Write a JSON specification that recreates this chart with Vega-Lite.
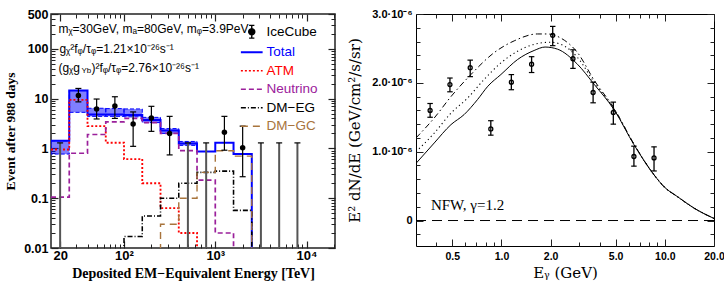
{
"$schema": "https://vega.github.io/schema/vega-lite/v6.json",
"background": "white",
"padding": {"left": 2, "top": 7, "right": 2, "bottom": 2},
"spacing": 10,
"config": {"font": "Liberation Sans", "axis": {"grid": false, "domain": false, "labelFlush": false, "labelOverlap": false, "labelBound": false, "tickColor": "#222", "labelColor": "black", "titleColor": "black"}},
"resolve": {"scale": {"color": "independent"}, "legend": {"color": "independent"}},
"datasets": {
 "hist": [
  {"s":"Total","E":15.85,"n":1.42,"o":0},{"s":"Total","E":25.12,"n":14.5,"o":1},{"s":"Total","E":39.81,"n":4.8,"o":2},{"s":"Total","E":63.1,"n":4.8,"o":3},{"s":"Total","E":100,"n":4.7,"o":4},{"s":"Total","E":158.5,"n":3.7,"o":5},{"s":"Total","E":251.2,"n":2.3,"o":6},{"s":"Total","E":398.1,"n":1.25,"o":7},{"s":"Total","E":631,"n":0.87,"o":8},{"s":"Total","E":1000,"n":1.3,"o":9},{"s":"Total","E":1585,"n":0.77,"o":10},{"s":"Total","E":2512,"n":0.77,"o":11},{"s":"Total","E":2512,"n":0.005,"o":12},
  {"s":"ATM","E":15.85,"n":0.95,"o":0},{"s":"ATM","E":25.12,"n":9.4,"o":1},{"s":"ATM","E":39.81,"n":2.8,"o":2},{"s":"ATM","E":63.1,"n":1.3,"o":3},{"s":"ATM","E":100,"n":0.61,"o":4},{"s":"ATM","E":158.5,"n":0.2,"o":5},{"s":"ATM","E":251.2,"n":0.063,"o":6},{"s":"ATM","E":398.1,"n":0.02,"o":7},{"s":"ATM","E":631,"n":0.02,"o":8},{"s":"ATM","E":631,"n":0.005,"o":9},
  {"s":"Neutrino","E":15.85,"n":0.105,"o":0},{"s":"Neutrino","E":25.12,"n":0.8,"o":1},{"s":"Neutrino","E":39.81,"n":1.9,"o":2},{"s":"Neutrino","E":63.1,"n":3.4,"o":3},{"s":"Neutrino","E":100,"n":4.0,"o":4},{"s":"Neutrino","E":158.5,"n":3.3,"o":5},{"s":"Neutrino","E":251.2,"n":2.0,"o":6},{"s":"Neutrino","E":398.1,"n":0.9,"o":7},{"s":"Neutrino","E":631,"n":0.23,"o":8},{"s":"Neutrino","E":1000,"n":0.02,"o":9},{"s":"Neutrino","E":1585,"n":0.02,"o":10},{"s":"Neutrino","E":1585,"n":0.005,"o":11},
  {"s":"DM−EG","E":100,"n":0.005,"o":0},{"s":"DM−EG","E":100,"n":0.017,"o":1},{"s":"DM−EG","E":158.5,"n":0.044,"o":2},{"s":"DM−EG","E":251.2,"n":0.1,"o":3},{"s":"DM−EG","E":398.1,"n":0.2,"o":4},{"s":"DM−EG","E":631,"n":0.33,"o":5},{"s":"DM−EG","E":1000,"n":0.35,"o":6},{"s":"DM−EG","E":1585,"n":0.057,"o":7},{"s":"DM−EG","E":2512,"n":0.057,"o":8},{"s":"DM−EG","E":2512,"n":0.005,"o":9},
  {"s":"DM−GC","E":251.2,"n":0.005,"o":0},{"s":"DM−GC","E":251.2,"n":0.03,"o":1},{"s":"DM−GC","E":398.1,"n":0.1,"o":2},{"s":"DM−GC","E":631,"n":0.33,"o":3},{"s":"DM−GC","E":1000,"n":0.9,"o":4},{"s":"DM−GC","E":1585,"n":0.7,"o":5},{"s":"DM−GC","E":2512,"n":0.7,"o":6},{"s":"DM−GC","E":2512,"n":0.005,"o":7}
 ],
 "band": [
  {"x1":15.85,"x2":25.12,"lo":0.77,"hi":1.42},{"x1":25.12,"x2":39.81,"lo":5.3,"hi":14.5},{"x1":39.81,"x2":63.1,"lo":4.4,"hi":6.4},{"x1":63.1,"x2":100,"lo":4.4,"hi":6.3},{"x1":100,"x2":158.5,"lo":4.3,"hi":6.2},{"x1":158.5,"x2":251.2,"lo":3.3,"hi":4.2},{"x1":251.2,"x2":398.1,"lo":2.0,"hi":2.5},{"x1":398.1,"x2":631,"lo":1.15,"hi":1.38}
 ],
 "ice": [
  {"E":31.62,"v":11.5,"lo":8.6,"hi":16},{"E":50.12,"v":6.2,"lo":3.9,"hi":9.8},{"E":79.43,"v":7.1,"lo":4.0,"hi":10.9},{"E":125.9,"v":3.1,"lo":1.1,"hi":5.4},{"E":199.5,"v":4.1,"lo":2.2,"hi":7.0},{"E":316.2,"v":2.0,"lo":0.74,"hi":4.4},{"E":1259,"v":2.1,"lo":0.92,"hi":4.4},{"E":1995,"v":1.03,"lo":0.27,"hi":2.8}
 ],
 "ul": [
  {"E":19.95,"hi":1.29},{"E":501.2,"hi":1.29},{"E":794.3,"hi":1.29},{"E":3162,"hi":1.29},{"E":5012,"hi":1.29},{"E":7943,"hi":1.29}
 ],
 "fermi": [
  {"E":0.366,"v":1.60e-6,"lo":1.50e-6,"hi":1.70e-6},{"E":0.484,"v":1.975e-6,"lo":1.87e-6,"hi":2.07e-6},{"E":0.644,"v":2.22e-6,"lo":2.09e-6,"hi":2.33e-6},{"E":0.861,"v":1.33e-6,"lo":1.24e-6,"hi":1.45e-6},{"E":1.15,"v":2.01e-6,"lo":1.90e-6,"hi":2.12e-6},{"E":1.53,"v":2.27e-6,"lo":2.15e-6,"hi":2.38e-6},{"E":2.06,"v":2.69e-6,"lo":2.54e-6,"hi":2.82e-6},{"E":2.74,"v":2.35e-6,"lo":2.21e-6,"hi":2.48e-6},{"E":3.64,"v":1.86e-6,"lo":1.71e-6,"hi":2.01e-6},{"E":4.84,"v":1.57e-6,"lo":1.40e-6,"hi":1.72e-6},{"E":6.47,"v":0.93e-6,"lo":0.79e-6,"hi":1.08e-6},{"E":8.59,"v":0.91e-6,"lo":0.72e-6,"hi":1.07e-6}
 ],
 "model": [
  {"m":"m1","E":0.3,"v":8.3e-7},{"m":"m1","E":0.388,"v":1.127e-6},{"m":"m1","E":0.491,"v":1.393e-6},{"m":"m1","E":0.591,"v":1.539e-6},{"m":"m1","E":0.714,"v":1.757e-6},{"m":"m1","E":0.826,"v":1.951e-6},{"m":"m1","E":0.993,"v":2.121e-6},{"m":"m1","E":1.256,"v":2.339e-6},{"m":"m1","E":1.585,"v":2.47e-6},{"m":"m1","E":1.85,"v":2.52e-6},{"m":"m1","E":2.2,"v":2.49e-6},{"m":"m1","E":2.92,"v":2.27e-6},{"m":"m1","E":3.69,"v":1.98e-6},{"m":"m1","E":4.89,"v":1.61e-6},{"m":"m1","E":6.48,"v":1.10e-6},{"m":"m1","E":8.58,"v":6.65e-7},{"m":"m1","E":10,"v":4.8e-7},{"m":"m1","E":11.9,"v":3.5e-7},{"m":"m1","E":15.1,"v":1.8e-7},{"m":"m1","E":20,"v":3e-8},
  {"m":"m2","E":0.3,"v":1.0e-6},{"m":"m2","E":0.388,"v":1.27e-6},{"m":"m2","E":0.491,"v":1.56e-6},{"m":"m2","E":0.621,"v":1.78e-6},{"m":"m2","E":0.784,"v":2.05e-6},{"m":"m2","E":0.993,"v":2.29e-6},{"m":"m2","E":1.256,"v":2.46e-6},{"m":"m2","E":1.585,"v":2.56e-6},{"m":"m2","E":2.0,"v":2.59e-6},{"m":"m2","E":2.31,"v":2.56e-6},{"m":"m2","E":2.92,"v":2.37e-6},{"m":"m2","E":3.69,"v":2.01e-6},{"m":"m2","E":4.89,"v":1.62e-6},{"m":"m2","E":6.48,"v":1.105e-6},{"m":"m2","E":8.58,"v":6.65e-7},{"m":"m2","E":10,"v":4.8e-7},{"m":"m2","E":11.9,"v":3.5e-7},{"m":"m2","E":15.1,"v":1.8e-7},{"m":"m2","E":20,"v":3e-8},
  {"m":"m3","E":0.3,"v":1.2e-6},{"m":"m3","E":0.388,"v":1.49e-6},{"m":"m3","E":0.491,"v":1.80e-6},{"m":"m3","E":0.65,"v":2.12e-6},{"m":"m3","E":0.904,"v":2.44e-6},{"m":"m3","E":1.197,"v":2.61e-6},{"m":"m3","E":1.66,"v":2.71e-6},{"m":"m3","E":1.91,"v":2.71e-6},{"m":"m3","E":2.31,"v":2.65e-6},{"m":"m3","E":2.92,"v":2.44e-6},{"m":"m3","E":3.69,"v":2.04e-6},{"m":"m3","E":4.89,"v":1.63e-6},{"m":"m3","E":6.48,"v":1.11e-6},{"m":"m3","E":8.58,"v":6.65e-7},{"m":"m3","E":10,"v":4.8e-7},{"m":"m3","E":11.9,"v":3.5e-7},{"m":"m3","E":15.1,"v":1.8e-7},{"m":"m3","E":20,"v":3e-8}
 ]
},
"hconcat": [
 {
  "width": 284, "height": 234,
  "view": {"stroke": "#222", "strokeWidth": 1.5},
  "resolve": {"axis": {"x": "independent", "y": "independent"}},
  "layer": [
   {"data": {"name": "ice"}, "mark": {"type": "point", "opacity": 0},
    "encoding": {
     "x": {"field": "E", "type": "quantitative", "scale": {"type": "log", "domain": [15.85, 20500], "nice": false},
       "axis": {"orient": "bottom", "values": [20, 100, 1000, 10000], "tickSize": 7, "tickWidth": 1.2, "offset": -7, "labelPadding": 1,
        "labelExpr": "datum.value == 20 ? '20' : datum.value == 100 ? '10²' : datum.value == 1000 ? '10³' : '10⁴'",
        "labelFontSize": 13, "labelFontWeight": "bold", "title": "Deposited EM−Equivalent Energy [TeV]", "titleFont": "Liberation Serif", "titleFontSize": 14, "titleFontWeight": "bold", "titlePadding": 4}},
     "y": {"field": "v", "type": "quantitative", "scale": {"type": "log", "domain": [0.01, 500], "nice": false},
       "axis": {"orient": "left", "values": [0.01, 0.1, 1, 10, 100, 500], "tickSize": 7, "tickWidth": 1.2, "offset": -7, "labelPadding": 3, "format": "~g",
        "labelFontSize": 12.5, "labelFontWeight": "bold", "title": "Event after 988 days", "titleFont": "Liberation Serif", "titleFontSize": 13.5, "titleFontWeight": "bold", "titlePadding": 6}}
    }},
   {"data": {"name": "ice"}, "mark": {"type": "point", "opacity": 0},
    "encoding": {
     "x": {"field": "E", "type": "quantitative", "scale": {"type": "log", "domain": [15.85, 20500], "nice": false},
       "axis": {"orient": "bottom", "values": [30,40,50,60,70,80,90,200,300,400,500,600,700,800,900,2000,3000,4000,5000,6000,7000,8000,9000,20000], "tickSize": 4, "tickWidth": 1, "offset": -4, "labels": false, "title": null}},
     "y": {"field": "v", "type": "quantitative", "scale": {"type": "log", "domain": [0.01, 500], "nice": false},
       "axis": {"orient": "left", "values": [0.02,0.03,0.04,0.05,0.06,0.07,0.08,0.09,0.2,0.3,0.4,0.5,0.6,0.7,0.8,0.9,2,3,4,5,6,7,8,9,20,30,40,50,60,70,80,90,200,300,400], "tickSize": 4, "tickWidth": 1, "offset": -4, "labels": false, "title": null}}
    }},
   {"data": {"name": "ice"}, "mark": {"type": "point", "opacity": 0},
    "encoding": {
     "x": {"field": "E", "type": "quantitative", "scale": {"type": "log", "domain": [15.85, 20500], "nice": false},
       "axis": {"orient": "top", "values": [20, 100, 1000, 10000], "tickSize": 7, "tickWidth": 1.2, "offset": -7, "labels": false, "title": null}},
     "y": {"field": "v", "type": "quantitative", "scale": {"type": "log", "domain": [0.01, 500], "nice": false},
       "axis": {"orient": "right", "values": [0.01, 0.1, 1, 10, 100, 500], "tickSize": 7, "tickWidth": 1.2, "offset": -7, "labels": false, "title": null}}
    }},
   {"data": {"name": "ice"}, "mark": {"type": "point", "opacity": 0},
    "encoding": {
     "x": {"field": "E", "type": "quantitative", "scale": {"type": "log", "domain": [15.85, 20500], "nice": false},
       "axis": {"orient": "top", "values": [30,40,50,60,70,80,90,200,300,400,500,600,700,800,900,2000,3000,4000,5000,6000,7000,8000,9000,20000], "tickSize": 4, "tickWidth": 1, "offset": -4, "labels": false, "title": null}},
     "y": {"field": "v", "type": "quantitative", "scale": {"type": "log", "domain": [0.01, 500], "nice": false},
       "axis": {"orient": "right", "values": [0.02,0.03,0.04,0.05,0.06,0.07,0.08,0.09,0.2,0.3,0.4,0.5,0.6,0.7,0.8,0.9,2,3,4,5,6,7,8,9,20,30,40,50,60,70,80,90,200,300,400], "tickSize": 4, "tickWidth": 1, "offset": -4, "labels": false, "title": null}}
    }},
   {"data": {"name": "band"}, "mark": {"type": "rect", "fill": "#0000ff", "fillOpacity": 0.5, "stroke": "#0000ff", "strokeDash": [4, 2], "strokeWidth": 1, "clip": true},
    "encoding": {
     "x": {"field": "x1", "type": "quantitative", "scale": {"type": "log", "domain": [15.85, 20500], "nice": false}, "axis": null},
     "x2": {"field": "x2"},
     "y": {"field": "lo", "type": "quantitative", "scale": {"type": "log", "domain": [0.01, 500], "nice": false}, "axis": null},
     "y2": {"field": "hi"}
    }},
   {"data": {"name": "hist"}, "mark": {"type": "line", "interpolate": "step-after", "clip": true},
    "encoding": {
     "x": {"field": "E", "type": "quantitative", "scale": {"type": "log", "domain": [15.85, 20500], "nice": false}, "axis": null},
     "y": {"field": "n", "type": "quantitative", "scale": {"type": "log", "domain": [0.01, 500], "nice": false}, "axis": null},
     "order": {"field": "o", "type": "quantitative"},
     "color": {"field": "s", "type": "nominal",
       "scale": {"domain": ["IceCube", "Total", "ATM", "Neutrino", "DM−EG", "DM−GC"], "range": ["#000000", "#0000ff", "#ff0000", "#9b209b", "#000000", "#a8743c"]},
       "legend": {"orient": "none", "legendX": 194, "legendY": 11, "title": null, "symbolType": "stroke", "symbolSize": 225, "symbolStrokeWidth": 1.5, "rowPadding": 3.5, "labelOffset": 8, "labelFont": "Liberation Sans", "labelFontSize": 13.5, "labelLimit": 200, "padding": 0, "direction": "vertical",
        "encode": {
         "symbols": {"update": {
           "shape": {"signal": "datum.value === 'IceCube' ? 'M0,-0.85V0.85M-0.35,-0.85H0.35M-0.35,0.85H0.35M-0.4,0A0.4,0.4,0,1,0,0.4,0A0.4,0.4,0,1,0,-0.4,0' : 'M-1.45,0H1.45'"},
           "strokeDash": {"signal": "datum.value === 'ATM' ? [2,2] : datum.value === 'Neutrino' ? [5,3] : datum.value === 'DM−EG' ? [5,2,1,2] : datum.value === 'DM−GC' ? [7,5] : [1,0]"},
           "fill": {"signal": "datum.value === 'IceCube' ? 'black' : 'transparent'"},
           "fillOpacity": {"value": 1},
           "strokeWidth": {"signal": "datum.value === 'Total' ? 2 : 1.4"}
         }},
         "labels": {"update": {
           "fill": {"signal": "datum.value === 'Total' ? '#0000ff' : datum.value === 'ATM' ? '#ff0000' : datum.value === 'Neutrino' ? '#9b209b' : datum.value === 'DM−GC' ? '#a8743c' : 'black'"}
         }}
        }}},
     "strokeDash": {"field": "s", "type": "nominal", "scale": {"domain": ["Total", "ATM", "Neutrino", "DM−EG", "DM−GC"], "range": [[1, 0], [2, 2], [5, 3], [5, 2, 1, 2], [7, 5]]}, "legend": null},
     "strokeWidth": {"field": "s", "type": "ordinal", "scale": {"domain": ["Total", "ATM", "Neutrino", "DM−EG", "DM−GC"], "range": [2, 1.4, 1.4, 1.2, 1.4]}, "legend": null}
    }},
   {"data": {"name": "ul"}, "mark": {"type": "rule", "color": "#555555", "strokeWidth": 2, "clip": true},
    "encoding": {
     "x": {"field": "E", "type": "quantitative", "scale": {"type": "log", "domain": [15.85, 20500], "nice": false}, "axis": null},
     "y": {"field": "hi", "type": "quantitative", "scale": {"type": "log", "domain": [0.01, 500], "nice": false}, "axis": null},
     "y2": {"datum": 0.01}
    }},
   {"data": {"name": "ul"}, "mark": {"type": "point", "shape": "stroke", "filled": false, "color": "black", "strokeWidth": 1.2, "size": 36, "opacity": 1},
    "encoding": {
     "x": {"field": "E", "type": "quantitative", "scale": {"type": "log", "domain": [15.85, 20500], "nice": false}, "axis": null},
     "y": {"field": "hi", "type": "quantitative", "scale": {"type": "log", "domain": [0.01, 500], "nice": false}, "axis": null}
    }},
   {"data": {"name": "ice"}, "mark": {"type": "rule", "color": "black", "strokeWidth": 1.2},
    "encoding": {
     "x": {"field": "E", "type": "quantitative", "scale": {"type": "log", "domain": [15.85, 20500], "nice": false}, "axis": null},
     "y": {"field": "lo", "type": "quantitative", "scale": {"type": "log", "domain": [0.01, 500], "nice": false}, "axis": null},
     "y2": {"field": "hi"}
    }},
   {"data": {"name": "ice"}, "mark": {"type": "point", "shape": "stroke", "filled": false, "color": "black", "strokeWidth": 1.2, "size": 36, "opacity": 1},
    "encoding": {
     "x": {"field": "E", "type": "quantitative", "scale": {"type": "log", "domain": [15.85, 20500], "nice": false}, "axis": null},
     "y": {"field": "lo", "type": "quantitative", "scale": {"type": "log", "domain": [0.01, 500], "nice": false}, "axis": null}
    }},
   {"data": {"name": "ice"}, "mark": {"type": "point", "shape": "stroke", "filled": false, "color": "black", "strokeWidth": 1.2, "size": 36, "opacity": 1},
    "encoding": {
     "x": {"field": "E", "type": "quantitative", "scale": {"type": "log", "domain": [15.85, 20500], "nice": false}, "axis": null},
     "y": {"field": "hi", "type": "quantitative", "scale": {"type": "log", "domain": [0.01, 500], "nice": false}, "axis": null}
    }},
   {"data": {"name": "ice"}, "mark": {"type": "point", "shape": "circle", "filled": true, "color": "black", "size": 30, "opacity": 1},
    "encoding": {
     "x": {"field": "E", "type": "quantitative", "scale": {"type": "log", "domain": [15.85, 20500], "nice": false}, "axis": null},
     "y": {"field": "v", "type": "quantitative", "scale": {"type": "log", "domain": [0.01, 500], "nice": false}, "axis": null}
    }},
   {"data": {"values": [{}]}, "mark": {"type": "text", "align": "left", "baseline": "middle", "fontSize": 12, "font": "Liberation Sans", "text": "mᵪ=30GeV, mₐ=80GeV, mᵩ=3.9PeV"},
    "encoding": {
     "x": {"datum": 19.1, "type": "quantitative", "scale": {"type": "log", "domain": [15.85, 20500], "nice": false}, "axis": null},
     "y": {"datum": 245, "type": "quantitative", "scale": {"type": "log", "domain": [0.01, 500], "nice": false}, "axis": null}
    }},
   {"data": {"values": [{}]}, "mark": {"type": "text", "align": "left", "baseline": "middle", "fontSize": 12, "font": "Liberation Sans", "text": "gᵪ²fᵩ/τᵩ=1.21×10⁻²⁶s⁻¹"},
    "encoding": {
     "x": {"datum": 19.6, "type": "quantitative", "scale": {"type": "log", "domain": [15.85, 20500], "nice": false}, "axis": null},
     "y": {"datum": 101, "type": "quantitative", "scale": {"type": "log", "domain": [0.01, 500], "nice": false}, "axis": null}
    }},
   {"data": {"values": [{}]}, "mark": {"type": "text", "align": "left", "baseline": "middle", "fontSize": 12, "font": "Liberation Sans", "text": "(gᵪg"},
    "encoding": {
     "x": {"datum": 19.1, "type": "quantitative", "scale": {"type": "log", "domain": [15.85, 20500], "nice": false}, "axis": null},
     "y": {"datum": 41, "type": "quantitative", "scale": {"type": "log", "domain": [0.01, 500], "nice": false}, "axis": null}
    }},
   {"data": {"values": [{}]}, "mark": {"type": "text", "align": "left", "baseline": "middle", "fontSize": 8, "font": "Liberation Sans", "dx": 23, "dy": 3, "text": "Υb"},
    "encoding": {
     "x": {"datum": 19.1, "type": "quantitative", "scale": {"type": "log", "domain": [15.85, 20500], "nice": false}, "axis": null},
     "y": {"datum": 41, "type": "quantitative", "scale": {"type": "log", "domain": [0.01, 500], "nice": false}, "axis": null}
    }},
   {"data": {"values": [{}]}, "mark": {"type": "text", "align": "left", "baseline": "middle", "fontSize": 12, "font": "Liberation Sans", "dx": 33, "text": ")²fᵩ/τᵩ=2.76×10⁻²⁶s⁻¹"},
    "encoding": {
     "x": {"datum": 19.1, "type": "quantitative", "scale": {"type": "log", "domain": [15.85, 20500], "nice": false}, "axis": null},
     "y": {"datum": 41, "type": "quantitative", "scale": {"type": "log", "domain": [0.01, 500], "nice": false}, "axis": null}
    }}
  ]
 },
 {
  "width": 298, "height": 232,
  "view": {"stroke": "black", "strokeWidth": 1},
  "resolve": {"axis": {"x": "independent", "y": "independent"}},
  "layer": [
   {"data": {"name": "fermi"}, "mark": {"type": "point", "opacity": 0},
    "encoding": {
     "x": {"field": "E", "type": "quantitative", "scale": {"type": "log", "domain": [0.3, 20], "nice": false},
       "axis": {"orient": "bottom", "values": [0.5, 1, 2, 5, 10, 20], "tickSize": 7, "tickWidth": 1, "offset": -7, "labelPadding": 5, "format": ".1f", "labelFontSize": 10.5, "labelFontWeight": "bold",
        "title": "Eᵧ (GeV)", "titleFont": "DejaVu Serif", "titleFontSize": 15, "titleFontWeight": "normal", "titlePadding": 4}},
     "y": {"field": "v", "type": "quantitative", "scale": {"type": "linear", "domain": [-3.7e-7, 3.0e-6], "nice": false, "zero": false},
       "axis": {"orient": "left", "values": [0, 1e-6, 2e-6, 3e-6], "tickSize": 7, "tickWidth": 1, "offset": -7, "labelPadding": 4,
        "labelExpr": "datum.value == 0 ? '0' : format(datum.value * 1e6, '.1f') + '·10⁻⁶'", "labelFontSize": 11, "labelFontWeight": "bold",
        "title": "E² dN/dE (GeV/cm²/s/sr)", "titleFont": "DejaVu Serif", "titleFontSize": 15, "titleFontWeight": "normal", "titlePadding": 9}}
    }},
   {"data": {"name": "fermi"}, "mark": {"type": "point", "opacity": 0},
    "encoding": {
     "x": {"field": "E", "type": "quantitative", "scale": {"type": "log", "domain": [0.3, 20], "nice": false},
       "axis": {"orient": "bottom", "values": [0.4, 0.6, 0.7, 0.8, 0.9, 3, 4, 6, 7, 8, 9], "tickSize": 4, "tickWidth": 1, "offset": -4, "labels": false, "title": null}},
     "y": {"field": "v", "type": "quantitative", "scale": {"type": "linear", "domain": [-3.7e-7, 3.0e-6], "nice": false, "zero": false},
       "axis": {"orient": "left", "values": [-2e-7, 2e-7, 4e-7, 6e-7, 8e-7, 1.2e-6, 1.4e-6, 1.6e-6, 1.8e-6, 2.2e-6, 2.4e-6, 2.6e-6, 2.8e-6], "tickSize": 4, "tickWidth": 1, "offset": -4, "labels": false, "title": null}}
    }},
   {"data": {"name": "fermi"}, "mark": {"type": "point", "opacity": 0},
    "encoding": {
     "x": {"field": "E", "type": "quantitative", "scale": {"type": "log", "domain": [0.3, 20], "nice": false},
       "axis": {"orient": "top", "values": [0.5, 1, 2, 5, 10, 20], "tickSize": 7, "tickWidth": 1, "offset": -7, "labels": false, "title": null}},
     "y": {"field": "v", "type": "quantitative", "scale": {"type": "linear", "domain": [-3.7e-7, 3.0e-6], "nice": false, "zero": false},
       "axis": {"orient": "right", "values": [0, 1e-6, 2e-6, 3e-6], "tickSize": 7, "tickWidth": 1, "offset": -7, "labels": false, "title": null}}
    }},
   {"data": {"name": "fermi"}, "mark": {"type": "point", "opacity": 0},
    "encoding": {
     "x": {"field": "E", "type": "quantitative", "scale": {"type": "log", "domain": [0.3, 20], "nice": false},
       "axis": {"orient": "top", "values": [0.4, 0.6, 0.7, 0.8, 0.9, 3, 4, 6, 7, 8, 9], "tickSize": 4, "tickWidth": 1, "offset": -4, "labels": false, "title": null}},
     "y": {"field": "v", "type": "quantitative", "scale": {"type": "linear", "domain": [-3.7e-7, 3.0e-6], "nice": false, "zero": false},
       "axis": {"orient": "right", "values": [-2e-7, 2e-7, 4e-7, 6e-7, 8e-7, 1.2e-6, 1.4e-6, 1.6e-6, 1.8e-6, 2.2e-6, 2.4e-6, 2.6e-6, 2.8e-6], "tickSize": 4, "tickWidth": 1, "offset": -4, "labels": false, "title": null}}
    }},
   {"data": {"values": [{}]}, "mark": {"type": "rule", "color": "black", "strokeWidth": 1, "strokeDash": [10, 6]},
    "encoding": {
     "y": {"datum": 0, "type": "quantitative", "scale": {"type": "linear", "domain": [-3.7e-7, 3.0e-6], "nice": false, "zero": false}, "axis": null}
    }},
   {"data": {"name": "model"}, "transform": [{"filter": "datum.m == 'm1'"}], "mark": {"type": "line", "interpolate": "monotone", "color": "black", "strokeWidth": 1, "clip": true},
    "encoding": {
     "x": {"field": "E", "type": "quantitative", "scale": {"type": "log", "domain": [0.3, 20], "nice": false}, "axis": null},
     "y": {"field": "v", "type": "quantitative", "scale": {"type": "linear", "domain": [-3.7e-7, 3.0e-6], "nice": false, "zero": false}, "axis": null}
    }},
   {"data": {"name": "model"}, "transform": [{"filter": "datum.m == 'm2'"}], "mark": {"type": "line", "interpolate": "monotone", "color": "black", "strokeWidth": 1.1, "strokeDash": [1.2, 3], "clip": true},
    "encoding": {
     "x": {"field": "E", "type": "quantitative", "scale": {"type": "log", "domain": [0.3, 20], "nice": false}, "axis": null},
     "y": {"field": "v", "type": "quantitative", "scale": {"type": "linear", "domain": [-3.7e-7, 3.0e-6], "nice": false, "zero": false}, "axis": null}
    }},
   {"data": {"name": "model"}, "transform": [{"filter": "datum.m == 'm3'"}], "mark": {"type": "line", "interpolate": "monotone", "color": "black", "strokeWidth": 1, "strokeDash": [6, 3, 1.5, 3], "clip": true},
    "encoding": {
     "x": {"field": "E", "type": "quantitative", "scale": {"type": "log", "domain": [0.3, 20], "nice": false}, "axis": null},
     "y": {"field": "v", "type": "quantitative", "scale": {"type": "linear", "domain": [-3.7e-7, 3.0e-6], "nice": false, "zero": false}, "axis": null}
    }},
   {"data": {"name": "fermi"}, "mark": {"type": "rule", "color": "black", "strokeWidth": 1.3},
    "encoding": {
     "x": {"field": "E", "type": "quantitative", "scale": {"type": "log", "domain": [0.3, 20], "nice": false}, "axis": null},
     "y": {"field": "lo", "type": "quantitative", "scale": {"type": "linear", "domain": [-3.7e-7, 3.0e-6], "nice": false, "zero": false}, "axis": null},
     "y2": {"field": "hi"}
    }},
   {"data": {"name": "fermi"}, "mark": {"type": "point", "shape": "stroke", "filled": false, "color": "black", "strokeWidth": 1.2, "size": 30, "opacity": 1},
    "encoding": {
     "x": {"field": "E", "type": "quantitative", "scale": {"type": "log", "domain": [0.3, 20], "nice": false}, "axis": null},
     "y": {"field": "lo", "type": "quantitative", "scale": {"type": "linear", "domain": [-3.7e-7, 3.0e-6], "nice": false, "zero": false}, "axis": null}
    }},
   {"data": {"name": "fermi"}, "mark": {"type": "point", "shape": "stroke", "filled": false, "color": "black", "strokeWidth": 1.2, "size": 30, "opacity": 1},
    "encoding": {
     "x": {"field": "E", "type": "quantitative", "scale": {"type": "log", "domain": [0.3, 20], "nice": false}, "axis": null},
     "y": {"field": "hi", "type": "quantitative", "scale": {"type": "linear", "domain": [-3.7e-7, 3.0e-6], "nice": false, "zero": false}, "axis": null}
    }},
   {"data": {"name": "fermi"}, "mark": {"type": "point", "shape": "circle", "filled": false, "color": "black", "strokeWidth": 1.3, "size": 16, "opacity": 1},
    "encoding": {
     "x": {"field": "E", "type": "quantitative", "scale": {"type": "log", "domain": [0.3, 20], "nice": false}, "axis": null},
     "y": {"field": "v", "type": "quantitative", "scale": {"type": "linear", "domain": [-3.7e-7, 3.0e-6], "nice": false, "zero": false}, "axis": null}
    }},
   {"data": {"values": [{}]}, "mark": {"type": "text", "align": "left", "baseline": "middle", "font": "Liberation Serif", "fontSize": 15, "text": "NFW, γ=1.2"},
    "encoding": {
     "x": {"datum": 0.37, "type": "quantitative", "scale": {"type": "log", "domain": [0.3, 20], "nice": false}, "axis": null},
     "y": {"datum": 2.3e-7, "type": "quantitative", "scale": {"type": "linear", "domain": [-3.7e-7, 3.0e-6], "nice": false, "zero": false}, "axis": null}
    }}
  ]
 }
]
}
